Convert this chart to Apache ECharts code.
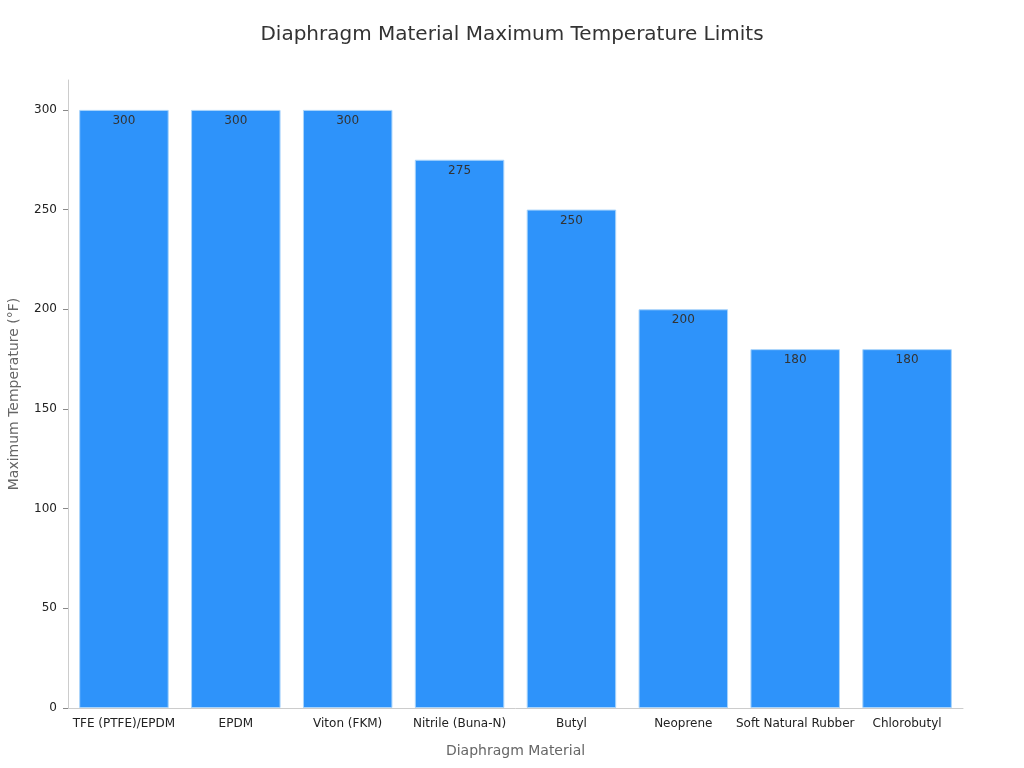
<!DOCTYPE html>
<html>
<head>
<meta charset="utf-8">
<script src="https://cdn.jsdelivr.net/npm/echarts@6/dist/echarts.min.js"></script>
<style>
  html, body { margin: 0; padding: 0; background: #fff; }
  #chart { width: 1024px; height: 768px; }
</style>
</head>
<body>
<div id="chart"></div>
<script>
// данные
var materials = ['TFE (PTFE)/EPDM', 'EPDM', 'Viton (FKM)', 'Nitrile (Buna-N)', 'Butyl', 'Neoprene', 'Soft Natural Rubber', 'Chlorobutyl'];
var maxTemps = [300, 300, 300, 275, 250, 200, 180, 180];

var chart = echarts.init(document.getElementById('chart'));

var option = {
    textStyle: { fontFamily: 'DejaVu Sans' },
    title: {
        text: 'Diaphragm Material Maximum Temperature Limits',
        left: 'center',
        top: 20,
        textStyle: {
            fontFamily: 'DejaVu Sans',
            fontWeight: 'normal',
            fontSize: 20,
            color: '#333'
        }
    },
    grid: {
        left: 68,
        right: 61,
        top: 80,
        bottom: 60,
        outerBoundsMode: 'none'
    },
    xAxis: {
        type: 'category',
        data: materials,
        name: 'Diaphragm Material',
        nameLocation: 'middle',
        nameGap: 36,
        nameTextStyle: { fontSize: 14, color: '#666' },
        axisLine: { lineStyle: { color: '#ccc' } },
        axisTick: { alignWithLabel: true, length: 4, lineStyle: { color: '#888' } },
        axisLabel: { interval: 0, fontSize: 12, color: '#222', margin: 10 }
    },
    yAxis: {
        type: 'value',
        min: 0,
        max: 315,
        interval: 50,
        name: 'Maximum Temperature (°F)',
        nameLocation: 'middle',
        nameGap: 47,
        nameTextStyle: { fontSize: 14, color: '#666' },
        axisLine: { show: true, lineStyle: { color: '#ccc' } },
        axisTick: { show: true, length: 5, lineStyle: { color: '#888' } },
        axisLabel: { fontSize: 12, color: '#222', margin: 11, showMaxLabel: false },
        splitLine: { show: false }
    },
    series: [{
        type: 'bar',
        data: maxTemps,
        barCategoryGap: '20%',
        itemStyle: {
            color: '#2E93FA',
            borderColor: '#A9D4FB',
            borderWidth: 1
        },
        label: {
            show: true,
            position: 'insideTop',
            distance: 5,
            fontSize: 12,
            color: '#333'
        }
    }]
};

chart.setOption(option);
</script>
</body>
</html>
